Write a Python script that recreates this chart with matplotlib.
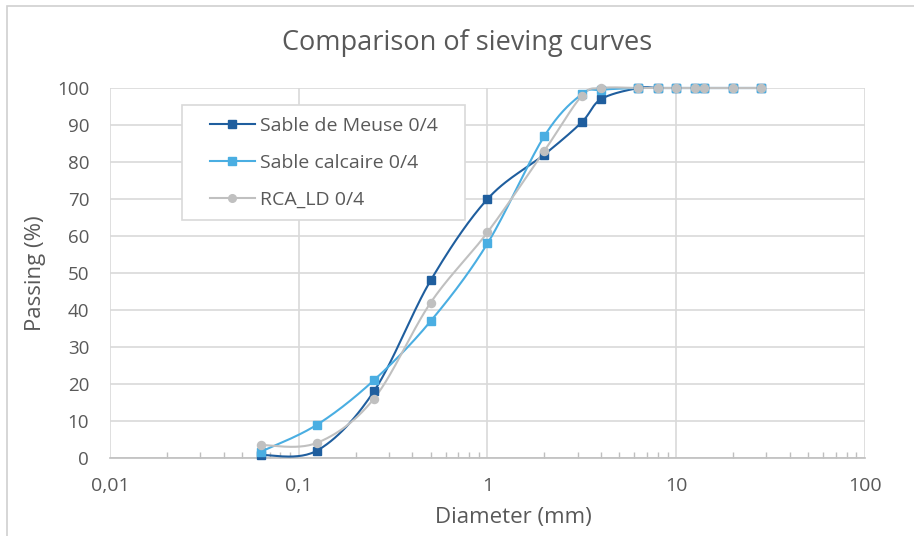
import numpy as np
import matplotlib
matplotlib.use("Agg")
import matplotlib.pyplot as plt
from matplotlib.patches import Rectangle
from matplotlib.ticker import FixedLocator, LogLocator, NullFormatter

plt.rcParams['font.family'] = ['Open Sans', 'DejaVu Sans']

# ---- data ----
diam = [0.063, 0.125, 0.25, 0.5, 1, 2, 3.15, 4, 6.3, 8, 10, 12.5, 14, 20, 28]
meuse = [0.8, 2.0, 18, 48, 70, 82, 90.7, 97, 100, 100, 100, 100, 100, 100, 100]
calcaire = [1.7, 9.0, 21, 37, 58, 87, 98.3, 99.5, 100, 100, 100, 100, 100, 100, 100]
rca = [3.5, 4.1, 16, 42, 61, 83, 97.8, 100, 100, 100, 100, 100, 100, 100, 100]

series_names = ["Sable de Meuse 0/4", "Sable calcaire 0/4", "RCA_LD 0/4"]
xticks = [0.01, 0.1, 1, 10, 100]
xtick_labels = ["0,01", "0,1", "1", "10", "100"]
yticks = list(range(0, 101, 10))

colors = ["#1f5e9e", "#4aaee2", "#c0c0c0"]
markers = ["s", "s", "o"]
text_color = "#595959"
grid_color = "#d9d9d9"

W, H = 914, 536
fig = plt.figure(figsize=(W / 100, H / 100), dpi=100)
ax = fig.add_axes([110 / W, (H - 458) / H, 755 / W, 370 / H])
ax.set_xscale('log')
ax.set_xlim(0.01, 100)
ax.set_ylim(0, 100)

# outer chart border
fig.patches.append(Rectangle((7 / W, -0.05), 1.0, 1 - 6 / H + 0.05, transform=fig.transFigure,
                             fill=False, edgecolor="#d0d0d0", linewidth=1.2, zorder=0))


def smooth(xs, ys):
    """Catmull-Rom style Bezier smoothing in display space (Excel-like)."""
    pts = ax.transData.transform(np.column_stack([xs, ys]))
    n = len(pts)
    out = [pts[0]]
    t = np.linspace(0, 1, 30)[1:]
    for i in range(n - 1):
        p0 = pts[i - 1] if i > 0 else pts[i]
        p1 = pts[i]
        p2 = pts[i + 1]
        p3 = pts[i + 2] if i + 2 < n else pts[i + 1]
        c1 = p1 + (p2 - p0) / 6.0
        c2 = p2 - (p3 - p1) / 6.0
        for tt in t:
            b = ((1 - tt) ** 3) * p1 + 3 * ((1 - tt) ** 2) * tt * c1 + 3 * (1 - tt) * tt ** 2 * c2 + tt ** 3 * p2
            out.append(b)
    out = np.array(out)
    inv = ax.transData.inverted().transform(out)
    return inv[:, 0], inv[:, 1]


for ys, name, c, m in zip([meuse, calcaire, rca], series_names, colors, markers):
    sx, sy = smooth(diam, ys)
    ax.plot(sx, sy, color=c, lw=1.5, zorder=3, clip_on=False)
    ax.plot(diam, ys, linestyle='none', marker=m, markersize=5.8, color=c, zorder=4, clip_on=False)
    ax.plot([], [], color=c, lw=1.5, marker=m, markersize=5.5, label=name)

# axes styling
for s in ['top', 'right', 'left']:
    ax.spines[s].set_visible(False)
ax.spines['bottom'].set_color("#bfbfbf")
ax.spines['bottom'].set_linewidth(1.2)

ax.xaxis.set_major_locator(FixedLocator(xticks))
ax.set_xticklabels(xtick_labels)
ax.xaxis.set_minor_locator(LogLocator(base=10, subs=np.arange(2, 10)))
ax.xaxis.set_minor_formatter(NullFormatter())
ax.set_yticks(yticks)
ax.tick_params(axis='x', which='minor', direction='in', length=4, width=1, color="#bfbfbf")
ax.tick_params(axis='x', which='major', length=0, pad=14, labelsize=14, labelcolor=text_color)
ax.tick_params(axis='y', which='major', length=0, pad=15, labelsize=13.5, labelcolor=text_color)
ax.grid(True, which='major', color=grid_color, lw=1.2, zorder=0)
ax.set_axisbelow(True)

fig.text(467 / W, 1 - 43 / H, "Comparison of sieving curves", ha='center', va='center',
         fontsize=19.5, color=text_color)
fig.text(35 / W, 1 - 273 / H, "Passing (%)", ha='center', va='center', rotation=90,
         fontsize=16, color=text_color)
fig.text(513 / W, 1 - 517 / H, "Diameter (mm)", ha='center', va='center',
         fontsize=16, color=text_color)

# legend box drawn explicitly (inside the axes so it stacks below the legend)
box = Rectangle((182 / W, 1 - 220 / H), 283 / W, 115 / H, transform=fig.transFigure,
                facecolor='white', edgecolor=grid_color, linewidth=1.2, zorder=5, clip_on=False)
ax.add_patch(box)
leg = ax.legend(loc='upper left', bbox_to_anchor=(210 / W, 1 - 117 / H), bbox_transform=fig.transFigure,
                fontsize=14, frameon=False,
                handlelength=2.3, handletextpad=0.28, labelspacing=0.97, borderpad=0,
                borderaxespad=0)
leg.set_zorder(6)
for t in leg.get_texts():
    t.set_color(text_color)

fig.savefig("out.png", dpi=100)
